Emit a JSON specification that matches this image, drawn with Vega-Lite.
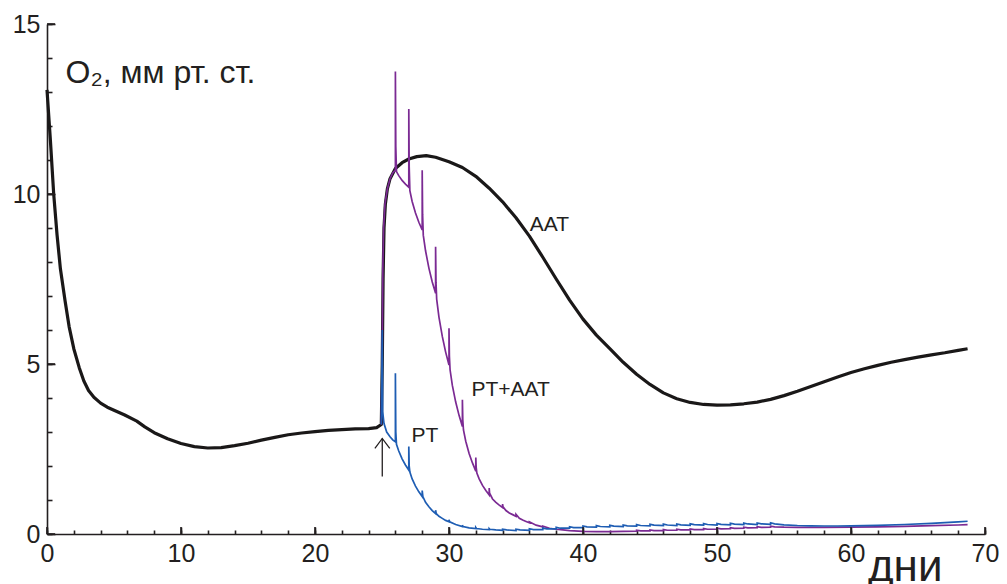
{
  "$schema": "https://vega.github.io/schema/vega-lite/v6.json",
  "width": 938,
  "height": 510,
  "autosize": "none",
  "padding": {"left": 47, "top": 24, "right": 22, "bottom": 50},
  "background": "white",
  "config": {
    "view": {"stroke": null},
    "font": "Liberation Sans",
    "axis": {
      "grid": false,
      "domainColor": "#231f20",
      "domainWidth": 1.6,
      "tickColor": "#231f20",
      "tickWidth": 1.6,
      "labelFont": "Liberation Sans",
      "labelFontSize": 25,
      "labelColor": "#231f20",
      "labelFlush": false,
      "labelOverlap": false,
      "titleFont": "Liberation Sans",
      "titleFontWeight": "normal",
      "titleColor": "#231f20"
    }
  },
  "resolve": {"axis": {"x": "independent", "y": "independent"}},
  "datasets": {
    "aat": [
      {"x":0,"y":13.06},{"x":0.25,"y":11.6},{"x":0.5,"y":10.0},{"x":0.75,"y":8.8},{"x":1.0,"y":7.8},{"x":1.35,"y":6.85},{"x":1.65,"y":6.1},{"x":2.0,"y":5.45},{"x":2.4,"y":4.9},{"x":2.75,"y":4.5},{"x":3.1,"y":4.22},{"x":3.5,"y":4.02},{"x":4.0,"y":3.85},{"x":4.5,"y":3.73},{"x":5.0,"y":3.64},{"x":5.8,"y":3.5},{"x":6.7,"y":3.32},{"x":7.3,"y":3.15},{"x":8.0,"y":2.98},{"x":9.0,"y":2.8},{"x":10.0,"y":2.66},{"x":11.0,"y":2.57},{"x":12.0,"y":2.53},{"x":13.0,"y":2.54},{"x":14.0,"y":2.6},{"x":15.0,"y":2.67},{"x":16.0,"y":2.76},{"x":17.0,"y":2.84},{"x":18.0,"y":2.92},{"x":19.0,"y":2.97},{"x":20.0,"y":3.01},{"x":21.0,"y":3.05},{"x":22.0,"y":3.07},{"x":23.0,"y":3.09},{"x":24.0,"y":3.1},{"x":24.6,"y":3.13},{"x":24.95,"y":3.22},{"x":25.02,"y":5.0},{"x":25.08,"y":7.5},{"x":25.15,"y":9.0},{"x":25.25,"y":9.7},{"x":25.4,"y":10.15},{"x":25.6,"y":10.45},{"x":26.0,"y":10.75},{"x":26.5,"y":10.92},{"x":27.0,"y":11.03},{"x":27.6,"y":11.1},{"x":28.3,"y":11.13},{"x":29.0,"y":11.08},{"x":30.0,"y":10.95},{"x":31.0,"y":10.78},{"x":32.0,"y":10.52},{"x":33.0,"y":10.17},{"x":34.0,"y":9.77},{"x":35.0,"y":9.3},{"x":36.0,"y":8.76},{"x":37.0,"y":8.14},{"x":38.0,"y":7.5},{"x":39.0,"y":6.88},{"x":40.0,"y":6.32},{"x":41.0,"y":5.85},{"x":42.0,"y":5.45},{"x":43.0,"y":5.05},{"x":44.0,"y":4.7},{"x":45.0,"y":4.4},{"x":46.0,"y":4.15},{"x":47.0,"y":3.98},{"x":48.0,"y":3.87},{"x":49.0,"y":3.81},{"x":50.0,"y":3.79},{"x":51.0,"y":3.8},{"x":52.0,"y":3.83},{"x":53.0,"y":3.88},{"x":54.0,"y":3.96},{"x":55.0,"y":4.07},{"x":56.0,"y":4.2},{"x":57.0,"y":4.34},{"x":58.0,"y":4.48},{"x":59.0,"y":4.62},{"x":60.0,"y":4.75},{"x":61.0,"y":4.86},{"x":62.0,"y":4.96},{"x":63.0,"y":5.05},{"x":64.0,"y":5.13},{"x":65.0,"y":5.2},{"x":66.0,"y":5.27},{"x":67.0,"y":5.33},{"x":68.0,"y":5.4},{"x":68.7,"y":5.45}
    ],
    "ptaat": [
      {"x":24.95,"y":3.22},{"x":25.02,"y":5.5},{"x":25.06,"y":7.8},{"x":25.12,"y":9.0},{"x":25.22,"y":9.7},{"x":25.4,"y":10.15},{"x":25.6,"y":10.45},{"x":25.8,"y":10.62},{"x":26,"y":10.7},
      {"x":26,"y":13.6},{"x":26.03,"y":11.4},{"x":26.08,"y":10.66},{"x":26.25,"y":10.54},{"x":26.5,"y":10.4},{"x":26.75,"y":10.29},{"x":27,"y":10.2},
      {"x":27,"y":12.5},{"x":27.03,"y":10.8},{"x":27.08,"y":10.1},{"x":27.25,"y":9.78},{"x":27.5,"y":9.44},{"x":27.75,"y":9.17},{"x":28,"y":8.94},
      {"x":28,"y":10.7},{"x":28.03,"y":9.4},{"x":28.08,"y":8.79},{"x":28.25,"y":8.33},{"x":28.5,"y":7.82},{"x":28.75,"y":7.41},{"x":29,"y":7.08},
      {"x":29,"y":8.45},{"x":29.03,"y":7.4},{"x":29.08,"y":6.91},{"x":29.25,"y":6.38},{"x":29.5,"y":5.81},{"x":29.75,"y":5.35},{"x":30,"y":4.97},
      {"x":30,"y":6.05},{"x":30.03,"y":5.23},{"x":30.08,"y":4.83},{"x":30.25,"y":4.37},{"x":30.5,"y":3.88},{"x":30.75,"y":3.49},{"x":31,"y":3.16},
      {"x":31,"y":3.95},{"x":31.03,"y":3.35},{"x":31.08,"y":3.06},{"x":31.25,"y":2.73},{"x":31.5,"y":2.37},{"x":31.75,"y":2.09},{"x":32,"y":1.85},
      {"x":32,"y":2.25},{"x":32.03,"y":1.95},{"x":32.08,"y":1.79},{"x":32.25,"y":1.62},{"x":32.5,"y":1.43},{"x":32.75,"y":1.28},{"x":33,"y":1.15},
      {"x":33,"y":1.35},{"x":33.03,"y":1.2},{"x":33.25,"y":1.03},{"x":33.5,"y":0.93},{"x":33.75,"y":0.85},{"x":34,"y":0.78},
      {"x":34,"y":0.88},{"x":34.03,"y":0.8},{"x":34.25,"y":0.69},{"x":34.5,"y":0.62},{"x":34.75,"y":0.57},{"x":35,"y":0.52},
      {"x":35,"y":0.58},{"x":35.25,"y":0.46},{"x":35.5,"y":0.41},{"x":35.75,"y":0.37},{"x":36,"y":0.33},
      {"x":36,"y":0.36},{"x":36.5,"y":0.26},{"x":37,"y":0.21},
      {"x":37,"y":0.23},{"x":37.5,"y":0.17},{"x":38,"y":0.14},
      {"x":38.5,"y":0.12},{"x":39,"y":0.1},{"x":40,"y":0.08},{"x":41,"y":0.07},{"x":42,"y":0.07},{"x":43,"y":0.075},
      {"x":44,"y":0.08},{"x":44,"y":0.11},{"x":44.3,"y":0.09},
      {"x":45,"y":0.09},{"x":45,"y":0.12},{"x":45.3,"y":0.1},
      {"x":46,"y":0.1},{"x":46,"y":0.13},{"x":46.3,"y":0.11},
      {"x":47,"y":0.11},{"x":47,"y":0.14},{"x":47.3,"y":0.12},
      {"x":48,"y":0.12},{"x":48,"y":0.15},{"x":48.3,"y":0.13},
      {"x":49,"y":0.13},{"x":49,"y":0.16},{"x":49.3,"y":0.14},
      {"x":50,"y":0.14},{"x":50,"y":0.17},{"x":50.3,"y":0.15},
      {"x":51,"y":0.155},{"x":51,"y":0.185},{"x":51.3,"y":0.165},
      {"x":52,"y":0.17},{"x":52,"y":0.2},{"x":52.3,"y":0.18},
      {"x":53,"y":0.185},{"x":53,"y":0.215},{"x":53.3,"y":0.195},
      {"x":54,"y":0.2},{"x":54,"y":0.23},{"x":54.3,"y":0.21},{"x":55,"y":0.2},{"x":56,"y":0.195},{"x":58,"y":0.195},{"x":60,"y":0.2},{"x":62,"y":0.21},{"x":64,"y":0.225},{"x":66,"y":0.245},{"x":68,"y":0.265},{"x":68.7,"y":0.275}
    ],
    "pt": [
      {"x":24.95,"y":3.22},{"x":25.02,"y":6.0},{"x":25.05,"y":3.6},{"x":25.15,"y":3.25},{"x":25.35,"y":3.0},{"x":25.6,"y":2.86},{"x":25.8,"y":2.77},{"x":26,"y":2.71},
      {"x":26,"y":4.73},{"x":26.03,"y":3.0},{"x":26.08,"y":2.64},{"x":26.25,"y":2.44},{"x":26.5,"y":2.21},{"x":26.75,"y":2.03},{"x":27,"y":1.88},
      {"x":27,"y":2.57},{"x":27.03,"y":2.0},{"x":27.08,"y":1.82},{"x":27.25,"y":1.62},{"x":27.5,"y":1.41},{"x":27.75,"y":1.24},{"x":28,"y":1.1},
      {"x":28,"y":1.28},{"x":28.05,"y":1.1},{"x":28.25,"y":0.93},{"x":28.5,"y":0.8},{"x":28.75,"y":0.69},{"x":29,"y":0.6},
      {"x":29,"y":0.7},{"x":29.05,"y":0.6},{"x":29.25,"y":0.52},{"x":29.5,"y":0.46},{"x":29.75,"y":0.4},{"x":30,"y":0.36},
      {"x":30,"y":0.42},{"x":30.05,"y":0.36},{"x":30.5,"y":0.28},{"x":31,"y":0.22},
      {"x":31,"y":0.26},{"x":31.05,"y":0.22},{"x":31.5,"y":0.18},{"x":32,"y":0.16},
      {"x":32,"y":0.19},{"x":32.05,"y":0.16},{"x":32.5,"y":0.14},{"x":33,"y":0.13},
      {"x":33,"y":0.16},{"x":33.05,"y":0.14},{"x":33.5,"y":0.12},{"x":34,"y":0.11},
      {"x":34,"y":0.14},{"x":34.3,"y":0.12},{"x":35,"y":0.1},
      {"x":35,"y":0.14},{"x":35.3,"y":0.12},{"x":36,"y":0.11},
      {"x":36,"y":0.155},{"x":36.3,"y":0.13},
      {"x":37,"y":0.13},{"x":37,"y":0.175},{"x":37.3,"y":0.15},
      {"x":38,"y":0.15},{"x":38,"y":0.195},{"x":38.3,"y":0.17},
      {"x":39,"y":0.17},{"x":39,"y":0.215},{"x":39.3,"y":0.19},
      {"x":40,"y":0.19},{"x":40,"y":0.235},{"x":40.3,"y":0.21},
      {"x":41,"y":0.2},{"x":41,"y":0.245},{"x":41.3,"y":0.22},
      {"x":42,"y":0.21},{"x":42,"y":0.255},{"x":42.3,"y":0.23},
      {"x":43,"y":0.22},{"x":43,"y":0.265},{"x":43.3,"y":0.24},
      {"x":44,"y":0.23},{"x":44,"y":0.275},{"x":44.3,"y":0.25},
      {"x":45,"y":0.24},{"x":45,"y":0.285},{"x":45.3,"y":0.26},
      {"x":46,"y":0.245},{"x":46,"y":0.29},{"x":46.3,"y":0.265},
      {"x":47,"y":0.25},{"x":47,"y":0.295},{"x":47.3,"y":0.27},
      {"x":48,"y":0.255},{"x":48,"y":0.3},{"x":48.3,"y":0.275},
      {"x":49,"y":0.26},{"x":49,"y":0.305},{"x":49.3,"y":0.28},
      {"x":50,"y":0.265},{"x":50,"y":0.31},{"x":50.3,"y":0.285},
      {"x":51,"y":0.27},{"x":51,"y":0.315},{"x":51.3,"y":0.29},
      {"x":52,"y":0.275},{"x":52,"y":0.32},{"x":52.3,"y":0.295},
      {"x":53,"y":0.28},{"x":53,"y":0.325},{"x":53.3,"y":0.3},
      {"x":54,"y":0.285},{"x":54,"y":0.33},{"x":54.3,"y":0.3},{"x":55,"y":0.27},{"x":56,"y":0.25},{"x":57,"y":0.24},{"x":58,"y":0.235},{"x":59,"y":0.235},{"x":60,"y":0.24},{"x":62,"y":0.255},{"x":64,"y":0.28},{"x":66,"y":0.31},{"x":68,"y":0.355},{"x":68.7,"y":0.375}
    ],
    "arrow": [
      {"g":"shaft","x":25.02,"y":1.69},{"g":"shaft","x":25.02,"y":2.81},
      {"g":"head","x":24.47,"y":2.52},{"g":"head","x":25.02,"y":2.81},{"g":"head","x":25.58,"y":2.52}
    ],
    "labels": [
      {"x":37.5,"y":9.1,"t":"AAT"},
      {"x":34.6,"y":4.24,"t":"PT+AAT"},
      {"x":28.2,"y":2.88,"t":"PT"}
    ],
    "xmajor": [{"v":0},{"v":10},{"v":20},{"v":30},{"v":40},{"v":50},{"v":60},{"v":70}],
    "ymajor": [{"v":0},{"v":5},{"v":10},{"v":15}]
  },
  "layer": [
    {
      "data": {"name": "aat"},
      "mark": {"type": "line", "color": "#1a1818", "strokeWidth": 3.2, "strokeJoin": "round"},
      "encoding": {
        "x": {
          "field": "x", "type": "quantitative",
          "scale": {"domain": [0, 70], "nice": false, "zero": false},
          "axis": {
            "orient": "bottom",
            "values": [0,10,20,30,40,50,60,70],
            "ticks": false,
            "labelPadding": 7,
            "title": "дни",
            "titleFontSize": 44,
            "titleX": 895,
            "titleY": 46,
            "titleAlign": "right",
            "titleBaseline": "alphabetic",
            "titleAnchor": null
          }
        },
        "y": {
          "field": "y", "type": "quantitative",
          "scale": {"domain": [0, 15], "nice": false, "zero": false},
          "axis": {
            "orient": "left",
            "values": [0,5,10,15],
            "ticks": false,
            "labelPadding": 7,
            "title": "O₂, мм рт. ст.",
            "titleFontSize": 32,
            "titleAngle": 0,
            "titleX": 18,
            "titleY": 58,
            "titleAlign": "left",
            "titleBaseline": "alphabetic",
            "titleAnchor": null
          }
        },
        "order": {"value": null}
      }
    },
    {
      "data": {"name": "ptaat"},
      "mark": {"type": "line", "color": "#7b2a93", "strokeWidth": 1.7},
      "encoding": {
        "x": {"field": "x", "type": "quantitative", "axis": null},
        "y": {"field": "y", "type": "quantitative", "axis": null},
        "order": {"value": null}
      }
    },
    {
      "data": {"name": "pt"},
      "mark": {"type": "line", "color": "#1e5db3", "strokeWidth": 1.7},
      "encoding": {
        "x": {"field": "x", "type": "quantitative",
          "axis": {"orient": "bottom", "values": [0,2,4,6,8,10,12,14,16,18,20,22,24,26,28,30,32,34,36,38,40,42,44,46,48,50,52,54,56,58,60,62,64,66,68,70], "offset": -4, "tickSize": 4, "ticks": true, "labels": false, "domain": false, "title": null}},
        "y": {"field": "y", "type": "quantitative",
          "axis": {"orient": "left", "values": [0,1,2,3,4,5,6,7,8,9,10,11,12,13,14,15], "offset": -5, "tickSize": 5, "ticks": true, "labels": false, "domain": false, "title": null}},
        "order": {"value": null}
      }
    },
    {
      "data": {"name": "arrow"},
      "mark": {"type": "line", "color": "#231f20", "strokeWidth": 1.3},
      "encoding": {
        "x": {"field": "x", "type": "quantitative",
          "axis": {"orient": "bottom", "values": [0,10,20,30,40,50,60,70], "offset": -7, "tickSize": 7, "ticks": true, "labels": false, "domain": false, "title": null}},
        "y": {"field": "y", "type": "quantitative",
          "axis": {"orient": "left", "values": [0,5,10,15], "offset": -8, "tickSize": 8, "ticks": true, "labels": false, "domain": false, "title": null}},
        "detail": {"field": "g"},
        "order": {"value": null}
      }
    },
    {
      "data": {"name": "xmajor"},
      "mark": {"type": "tick", "orient": "vertical", "size": 7, "thickness": 1.6, "color": "#231f20", "opacity": 1, "yOffset": -3.5},
      "encoding": {
        "x": {"field": "v", "type": "quantitative", "axis": null},
        "y": {"datum": 0, "type": "quantitative", "axis": null}
      }
    },
    {
      "data": {"name": "ymajor"},
      "mark": {"type": "tick", "orient": "horizontal", "size": 8, "thickness": 1.6, "color": "#231f20", "opacity": 1, "xOffset": 4},
      "encoding": {
        "y": {"field": "v", "type": "quantitative", "axis": null},
        "x": {"datum": 0, "type": "quantitative", "axis": null}
      }
    },
    {
      "data": {"name": "labels"},
      "mark": {"type": "text", "font": "Liberation Sans", "fontSize": 21, "color": "#231f20", "align": "center", "baseline": "middle"},
      "encoding": {
        "x": {"field": "x", "type": "quantitative", "axis": null},
        "y": {"field": "y", "type": "quantitative", "axis": null},
        "text": {"field": "t"}
      }
    }
  ]
}
